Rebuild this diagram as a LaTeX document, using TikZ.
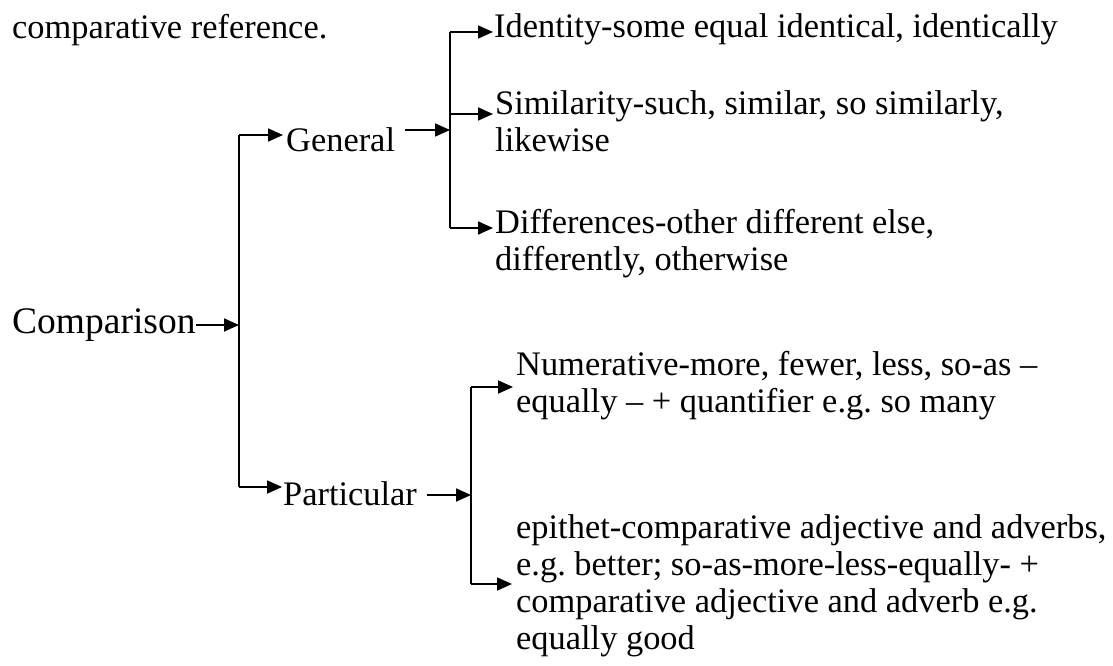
\documentclass[tikz,border=0pt]{standalone}
\usepackage{fontspec}
\setmainfont{Liberation Serif}
\usetikzlibrary{arrows.meta,calc}
\frenchspacing
\begin{document}
\begin{tikzpicture}[x=1pt,y=-1pt,
  lbl/.style={anchor=base west,inner sep=0pt,align=left,font=\fontsize{34.4}{37}\selectfont\frenchspacing},
  big/.style={font=\fontsize{37.5}{40}\selectfont},
  arr/.style={-{Triangle[length=15pt,width=13pt]},line width=1.8pt},
  bar/.style={line width=1.8pt}]
\useasboundingbox (0,0) rectangle (1113,666);
% texts (multi-line nodes anchored on the baseline of their last line)
\node[lbl] (ref) at (12,39) {comparative reference.};
\node[lbl,big] (cmp) at (12,333) {Comparison};
\node[lbl] (gen) at (286,151) {General};
\node[lbl] (par) at (283,505) {Particular};
\node[lbl] (ide) at (494,38) {Identity-some equal identical, identically};
\node[lbl] (sim) at (495,151) {Similarity-such, similar, so similarly,\\likewise};
\node[lbl] (dif) at (495,270) {Differences-other different else,\\differently, otherwise};
\node[lbl] (num) at (516,412) {Numerative-more, fewer, less, so-as –\\equally – + quantifier e.g. so many};
\node[lbl] (epi) at (516,649) {epithet-comparative adjective and adverbs,\\e.g. better; so-as-more-less-equally- +\\comparative adjective and adverb e.g.\\equally good};
% junctions
\coordinate (c1) at (239,325);
\coordinate (c1t) at (239,135);
\coordinate (c1b) at (239,487);
\coordinate (g) at (450,130);
\coordinate (gt) at (450,32);
\coordinate (gm) at (450,114);
\coordinate (gb) at (450,228);
\coordinate (p) at (471,495);
\coordinate (pt) at (471,387);
\coordinate (pb) at (471,584);
% Comparison level
\draw[arr] (cmp.east |- c1) -- (c1);
\draw[bar] (c1t) -- (c1b);
\draw[arr] (c1t) -- ($(gen.west |- c1t)+(-3,0)$);
\draw[arr] (c1b) -- ($(par.west |- c1b)+(-1,0)$);
% General level
\draw[arr] ($(gen.east |- g)+(10,0)$) -- (g);
\draw[bar] (gt) -- (gb);
\draw[arr] (gt) -- ($(ide.west |- gt)+(-1,0)$);
\draw[arr] (gm) -- ($(sim.west |- gm)+(-2,0)$);
\draw[arr] (gb) -- ($(dif.west |- gb)+(-2,0)$);
% Particular level
\draw[arr] ($(par.east |- p)+(10,0)$) -- (p);
\draw[bar] (pt) -- (pb);
\draw[arr] (pt) -- ($(num.west |- pt)+(-3,0)$);
\draw[arr] (pb) -- ($(epi.west |- pb)+(-4,0)$);
\end{tikzpicture}
\end{document}
